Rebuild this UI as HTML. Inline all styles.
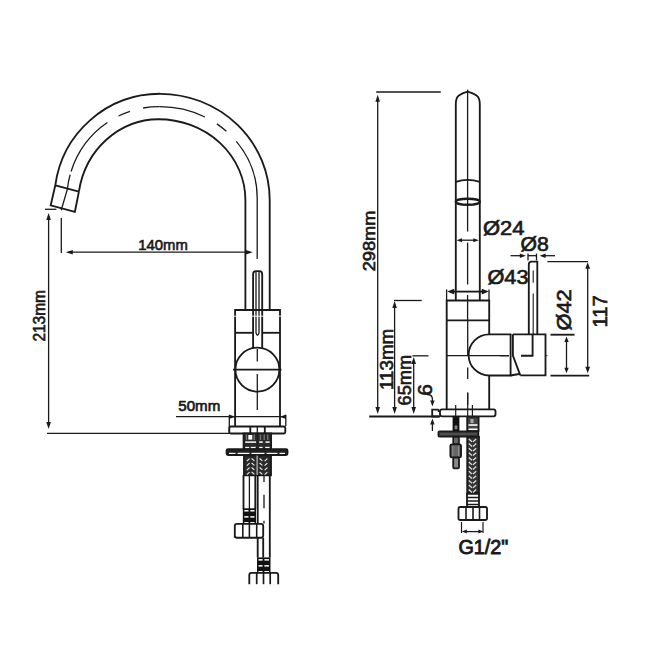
<!DOCTYPE html>
<html><head><meta charset="utf-8"><style>
html,body{margin:0;padding:0;background:#fff;width:650px;height:650px;overflow:hidden}
svg{display:block}
</style></head><body>
<svg width="650" height="650" viewBox="0 0 650 650" stroke-linecap="butt">
<rect width="650" height="650" fill="#fff"/>
<path d="M269.7,310 L269.7,200 A109.7,106.2 0 0 0 160,93.8 A105.6,105.9 0 0 0 55.3,185.3" fill="none" stroke="#1a1a1a" stroke-width="1.85" />
<path d="M245.4,310 L245.4,200 A86.9,80.8 0 0 0 158.5,119.2 A80.8,86.4 0 0 0 78.9,191.6" fill="none" stroke="#1a1a1a" stroke-width="1.85" />
<path d="M55.3,185.3 L78.9,191.6 M55.3,185.3 L50.7,205.3 L74.9,211.8 L78.9,191.6" fill="none" stroke="#1a1a1a" stroke-width="1.85" />
<line x1="61.2" y1="210.2" x2="67.6" y2="188.4" stroke="#1a1a1a" stroke-width="1.3" />
<path d="M67.46,188.38 A92.2,92.9 0 0 1 70.15,174.68" fill="none" stroke="#1a1a1a" stroke-width="1.3" />
<path d="M71.09,171.49 A92.2,92.9 0 0 1 107.38,122.52" fill="none" stroke="#1a1a1a" stroke-width="1.3" />
<path d="M118.52,116.03 A92.2,92.9 0 0 1 129.95,111.33" fill="none" stroke="#1a1a1a" stroke-width="1.3" />
<path d="M143.10,107.99 A92.2,92.9 0 0 1 159.50,106.60" fill="none" stroke="#1a1a1a" stroke-width="1.3" />
<path d="M159.50,106.60 A97.2,91.4 0 0 1 204.97,116.97" fill="none" stroke="#1a1a1a" stroke-width="1.3" />
<path d="M216.85,123.86 A97.2,91.4 0 0 1 226.43,131.27" fill="none" stroke="#1a1a1a" stroke-width="1.3" />
<path d="M236.33,141.41 A97.2,91.4 0 0 1 257.20,198.00" fill="none" stroke="#1a1a1a" stroke-width="1.3" />
<line x1="257.2" y1="198" x2="257.2" y2="259" stroke="#1a1a1a" stroke-width="1.3" />
<line x1="45" y1="209.3" x2="56.4" y2="209.3" stroke="#1a1a1a" stroke-width="1.3" />
<line x1="48.6" y1="216" x2="48.6" y2="426" stroke="#1a1a1a" stroke-width="1.3" />
<path d="M48.60,213.00 L50.90,220.00 L46.30,220.00Z" fill="#1a1a1a"/>
<path d="M48.60,429.00 L46.30,422.00 L50.90,422.00Z" fill="#1a1a1a"/>
<line x1="47" y1="433.3" x2="229.3" y2="433.3" stroke="#1a1a1a" stroke-width="1.3" />
<text x="44.8" y="315.8" font-family="Liberation Sans" font-size="16" font-weight="normal" text-anchor="middle" fill="#1a1a1a" stroke="#1a1a1a" stroke-width="0.65" transform="rotate(-90 44.8 315.8)" textLength="51.5" lengthAdjust="spacingAndGlyphs">213mm</text>
<line x1="61.3" y1="218" x2="61.3" y2="253" stroke="#1a1a1a" stroke-width="1.3" />
<line x1="68" y1="252.2" x2="250" y2="252.2" stroke="#1a1a1a" stroke-width="1.3" />
<path d="M65.80,252.20 L72.80,249.90 L72.80,254.50Z" fill="#1a1a1a"/>
<path d="M252.80,252.20 L245.80,254.50 L245.80,249.90Z" fill="#1a1a1a"/>
<text x="163.1" y="249.6" font-family="Liberation Sans" font-size="15.5" font-weight="normal" text-anchor="middle" fill="#1a1a1a" stroke="#1a1a1a" stroke-width="0.65" textLength="49.5" lengthAdjust="spacingAndGlyphs">140mm</text>
<path d="M253.1,348.5 L253.1,274 Q253.1,271.1 256,271.1 L259.3,271.1 Q262.2,271.1 262.2,274 L262.2,348.5" fill="none" stroke="#1a1a1a" stroke-width="1.85" />
<path d="M256.0,272 L256.0,333 Q257.5,337.5 259.0,333 L259.0,272" fill="none" stroke="#1a1a1a" stroke-width="1.3" />
<path d="M235.1,426.5 L235.1,310 L280,310 L280,426.5" fill="none" stroke="#1a1a1a" stroke-width="1.85" />
<line x1="235.1" y1="332.8" x2="252.8" y2="332.8" stroke="#1a1a1a" stroke-width="1.85" />
<line x1="262" y1="332.8" x2="280" y2="332.8" stroke="#1a1a1a" stroke-width="1.85" />
<circle cx="257.4" cy="369.6" r="22" fill="none" stroke="#1a1a1a" stroke-width="1.85"/>
<line x1="233" y1="369.6" x2="281.5" y2="369.6" stroke="#1a1a1a" stroke-width="1.85" />
<line x1="257.3" y1="349" x2="257.3" y2="361.5" stroke="#1a1a1a" stroke-width="1.3" />
<line x1="257.3" y1="374" x2="257.3" y2="410" stroke="#1a1a1a" stroke-width="1.3" />
<line x1="233" y1="316.2" x2="283" y2="316.2" stroke="#fff" stroke-width="0.9" />
<line x1="176" y1="416.7" x2="285.8" y2="416.7" stroke="#1a1a1a" stroke-width="1.3" />
<path d="M235.10,416.70 L229.10,418.90 L229.10,414.50Z" fill="#1a1a1a"/>
<path d="M280.00,416.70 L286.00,414.50 L286.00,418.90Z" fill="#1a1a1a"/>
<text x="199.3" y="410.7" font-family="Liberation Sans" font-size="15.5" font-weight="normal" text-anchor="middle" fill="#1a1a1a" stroke="#1a1a1a" stroke-width="0.7" textLength="42" lengthAdjust="spacingAndGlyphs">50mm</text>
<line x1="229.3" y1="415" x2="229.3" y2="433.5" stroke="#1a1a1a" stroke-width="1.3" />
<line x1="285.8" y1="415" x2="285.8" y2="426" stroke="#1a1a1a" stroke-width="1.3" />
<rect x="229.3" y="426.5" width="56" height="7" rx="1.5" fill="#fff" stroke="#1a1a1a" stroke-width="1.85"/>
<line x1="250.3" y1="426.5" x2="250.3" y2="433.5" stroke="#1a1a1a" stroke-width="1.85" />
<line x1="264.8" y1="426.5" x2="264.8" y2="433.5" stroke="#1a1a1a" stroke-width="1.85" />
<line x1="257.3" y1="426.5" x2="257.3" y2="433.5" stroke="#1a1a1a" stroke-width="1.3" />
<rect x="243.6" y="433.5" width="27.5" height="15.4" rx="0" fill="#2a2a2a" stroke="#1a1a1a" stroke-width="1.85"/>
<line x1="246.5" y1="434.5" x2="246.5" y2="440" stroke="#777" stroke-width="1.3" />
<line x1="254.2" y1="434.5" x2="254.2" y2="440" stroke="#777" stroke-width="1.3" />
<line x1="260.5" y1="434.5" x2="260.5" y2="440" stroke="#777" stroke-width="1.3" />
<line x1="264.2" y1="434.5" x2="264.2" y2="440" stroke="#777" stroke-width="1.3" />
<line x1="267.8" y1="434.5" x2="267.8" y2="440" stroke="#777" stroke-width="1.3" />
<rect x="248.3" y="435" width="4" height="4.6" fill="#fff"/>
<line x1="245.2" y1="442.1" x2="256.2" y2="442.1" stroke="#fff" stroke-width="1.5" />
<line x1="259.2" y1="442.1" x2="262.8" y2="442.1" stroke="#fff" stroke-width="1.5" />
<line x1="265.5" y1="442.1" x2="269.6" y2="442.1" stroke="#fff" stroke-width="1.5" />
<line x1="245.2" y1="447.6" x2="249.2" y2="447.6" stroke="#fff" stroke-width="1.5" />
<line x1="250.8" y1="447.6" x2="255.6" y2="447.6" stroke="#fff" stroke-width="1.5" />
<line x1="259.2" y1="447.6" x2="262.6" y2="447.6" stroke="#fff" stroke-width="1.5" />
<line x1="265.2" y1="447.6" x2="269.6" y2="447.6" stroke="#fff" stroke-width="1.5" />
<line x1="257.2" y1="433.5" x2="257.2" y2="449" stroke="#1a1a1a" stroke-width="1.2" />
<rect x="226.6" y="449.2" width="60.9" height="5.9" rx="1.5" fill="#222" stroke="#1a1a1a" stroke-width="1.85"/>
<line x1="229" y1="453.4" x2="235.5" y2="453.4" stroke="#fff" stroke-width="1.2" />
<line x1="237.5" y1="453.4" x2="249.5" y2="453.4" stroke="#fff" stroke-width="1.2" />
<line x1="251.5" y1="453.4" x2="264.5" y2="453.4" stroke="#fff" stroke-width="1.2" />
<line x1="266.5" y1="453.4" x2="277.5" y2="453.4" stroke="#fff" stroke-width="1.2" />
<line x1="279.5" y1="453.4" x2="285" y2="453.4" stroke="#fff" stroke-width="1.2" />
<rect x="244" y="455.5" width="27" height="19.8" rx="0" fill="#2a2a2a" stroke="#1a1a1a" stroke-width="1.85"/>
<line x1="257.1" y1="455.5" x2="257.1" y2="475" stroke="#ddd" stroke-width="1.0" />
<path d="M246.8,461.1 l2.8,-2.4" fill="none" stroke="#eee" stroke-width="1.1" />
<path d="M251.6,458.5 l2.8,2.4" fill="none" stroke="#eee" stroke-width="1.1" />
<path d="M259.6,458.5 l2.8,2.4" fill="none" stroke="#eee" stroke-width="1.1" />
<path d="M264.6,461.1 l2.8,-2.4" fill="none" stroke="#eee" stroke-width="1.1" />
<path d="M246.8,465.6 l2.8,-2.4" fill="none" stroke="#eee" stroke-width="1.1" />
<path d="M251.6,463.0 l2.8,2.4" fill="none" stroke="#eee" stroke-width="1.1" />
<path d="M259.6,463.0 l2.8,2.4" fill="none" stroke="#eee" stroke-width="1.1" />
<path d="M264.6,465.6 l2.8,-2.4" fill="none" stroke="#eee" stroke-width="1.1" />
<path d="M246.8,470.1 l2.8,-2.4" fill="none" stroke="#eee" stroke-width="1.1" />
<path d="M251.6,467.5 l2.8,2.4" fill="none" stroke="#eee" stroke-width="1.1" />
<path d="M259.6,467.5 l2.8,2.4" fill="none" stroke="#eee" stroke-width="1.1" />
<path d="M264.6,470.1 l2.8,-2.4" fill="none" stroke="#eee" stroke-width="1.1" />
<path d="M246.8,474.6 l2.8,-2.4" fill="none" stroke="#eee" stroke-width="1.1" />
<path d="M251.6,472.0 l2.8,2.4" fill="none" stroke="#eee" stroke-width="1.1" />
<path d="M259.6,472.0 l2.8,2.4" fill="none" stroke="#eee" stroke-width="1.1" />
<path d="M264.6,474.6 l2.8,-2.4" fill="none" stroke="#eee" stroke-width="1.1" />
<path d="M243.5,475 L243.5,509 M255.3,475 L255.3,509" fill="none" stroke="#1a1a1a" stroke-width="1.85" />
<line x1="249.4" y1="475" x2="249.4" y2="509" stroke="#1a1a1a" stroke-width="1.3" />
<rect x="242.8" y="508.3" width="13.199999999999989" height="15.599999999999966" fill="#111"/>
<line x1="244.3" y1="510.796" x2="248.5" y2="510.796" stroke="#fff" stroke-width="1.5" />
<line x1="250.3" y1="510.796" x2="254.5" y2="510.796" stroke="#fff" stroke-width="1.5" />
<line x1="244.3" y1="516.88" x2="248.5" y2="516.88" stroke="#fff" stroke-width="1.5" />
<line x1="250.3" y1="516.88" x2="254.5" y2="516.88" stroke="#fff" stroke-width="1.5" />
<line x1="244.3" y1="522.808" x2="248.5" y2="522.808" stroke="#fff" stroke-width="1.5" />
<line x1="250.3" y1="522.808" x2="254.5" y2="522.808" stroke="#fff" stroke-width="1.5" />
<path d="M234.8,537.7 L234.8,526 Q234.8,523.9 237,523.9 L261,523.9 Q263.2,523.9 263.2,526 L263.2,535.5 Q263.2,537.7 261,537.7 L237,537.7 Q234.8,537.7 234.8,535.5" fill="none" stroke="#1a1a1a" stroke-width="1.85" />
<line x1="242.8" y1="524" x2="242.8" y2="537.7" stroke="#1a1a1a" stroke-width="1.6" />
<line x1="249.4" y1="524" x2="249.4" y2="537.7" stroke="#1a1a1a" stroke-width="1.6" />
<line x1="256.7" y1="524" x2="256.7" y2="537.7" stroke="#1a1a1a" stroke-width="1.6" />
<path d="M257.7,475 L257.7,523.9 M257.7,537.7 L257.7,557.4 M263.2,537.7 L263.2,557.4 M269.8,475 L269.8,557.4" fill="none" stroke="#1a1a1a" stroke-width="1.85" />
<line x1="264" y1="475" x2="264" y2="482" stroke="#1a1a1a" stroke-width="1.3" />
<line x1="264" y1="494.7" x2="264" y2="508.3" stroke="#1a1a1a" stroke-width="1.3" />
<line x1="264" y1="520.8" x2="264" y2="523.5" stroke="#1a1a1a" stroke-width="1.3" />
<rect x="257.0" y="557.4" width="13.5" height="15.399999999999977" fill="#111"/>
<line x1="258.5" y1="559.8639999999999" x2="262.6" y2="559.8639999999999" stroke="#fff" stroke-width="1.5" />
<line x1="264.4" y1="559.8639999999999" x2="269.0" y2="559.8639999999999" stroke="#fff" stroke-width="1.5" />
<line x1="258.5" y1="565.87" x2="262.6" y2="565.87" stroke="#fff" stroke-width="1.5" />
<line x1="264.4" y1="565.87" x2="269.0" y2="565.87" stroke="#fff" stroke-width="1.5" />
<line x1="258.5" y1="571.722" x2="262.6" y2="571.722" stroke="#fff" stroke-width="1.5" />
<line x1="264.4" y1="571.722" x2="269.0" y2="571.722" stroke="#fff" stroke-width="1.5" />
<path d="M249.3,584.2 L249.3,575 Q249.3,572.8 251.5,572.8 L276,572.8 Q278.2,572.8 278.2,575 L278.2,584.2" fill="none" stroke="#1a1a1a" stroke-width="1.85" />
<line x1="256.7" y1="572.8" x2="256.7" y2="584.2" stroke="#1a1a1a" stroke-width="1.7" />
<line x1="263.5" y1="572.8" x2="263.5" y2="584.2" stroke="#1a1a1a" stroke-width="1.7" />
<line x1="270.2" y1="572.8" x2="270.2" y2="584.2" stroke="#1a1a1a" stroke-width="1.7" />
<line x1="376.2" y1="92" x2="440.8" y2="92" stroke="#1a1a1a" stroke-width="1.3" />
<line x1="377.7" y1="100" x2="377.7" y2="408" stroke="#1a1a1a" stroke-width="1.3" />
<path d="M377.70,94.80 L380.00,101.80 L375.40,101.80Z" fill="#1a1a1a"/>
<path d="M377.70,414.00 L375.40,407.00 L380.00,407.00Z" fill="#1a1a1a"/>
<text x="374.6" y="241" font-family="Liberation Sans" font-size="16" font-weight="normal" text-anchor="middle" fill="#1a1a1a" stroke="#1a1a1a" stroke-width="0.65" transform="rotate(-90 374.6 241)" textLength="60.7" lengthAdjust="spacingAndGlyphs">298mm</text>
<path d="M455.8,300.5 L455.8,104.5 C455.8,99 456.5,97 458.8,95.6 Q463,92.6 467.6,91.6 Q472.2,92.6 476.6,95.6 C479,97 479.8,99 479.8,104.5 L479.8,300.5" fill="none" stroke="#1a1a1a" stroke-width="1.85" />
<line x1="467.6" y1="89.6" x2="467.6" y2="231.5" stroke="#1a1a1a" stroke-width="1.3" />
<line x1="467.6" y1="242.6" x2="467.6" y2="284.5" stroke="#1a1a1a" stroke-width="1.3" />
<line x1="467.6" y1="295" x2="467.6" y2="320.5" stroke="#1a1a1a" stroke-width="1.3" />
<path d="M455.8,181.8 Q467.7,178 479.8,181.8" fill="none" stroke="#1a1a1a" stroke-width="1.85" />
<ellipse cx="467.8" cy="201.8" rx="12" ry="3" fill="none" stroke="#1a1a1a" stroke-width="2.4"/>
<line x1="461" y1="240.2" x2="474" y2="240.2" stroke="#1a1a1a" stroke-width="1.3" />
<path d="M456.50,240.20 L462.00,238.20 L462.00,242.20Z" fill="#1a1a1a"/>
<path d="M478.80,240.20 L473.30,242.20 L473.30,238.20Z" fill="#1a1a1a"/>
<text x="483" y="235.4" font-family="Liberation Sans" font-size="19.5" font-weight="normal" text-anchor="start" fill="#1a1a1a" stroke="#1a1a1a" stroke-width="0.65" textLength="41.5" lengthAdjust="spacingAndGlyphs">Ø24</text>
<line x1="452" y1="291.6" x2="484" y2="291.6" stroke="#1a1a1a" stroke-width="1.85" />
<path d="M447.20,291.60 L454.20,288.80 L454.20,294.40Z" fill="#1a1a1a"/>
<path d="M488.80,291.60 L481.80,294.40 L481.80,288.80Z" fill="#1a1a1a"/>
<line x1="446.6" y1="289.4" x2="446.6" y2="300.5" stroke="#1a1a1a" stroke-width="1.3" />
<line x1="489" y1="289.4" x2="489" y2="300.5" stroke="#1a1a1a" stroke-width="1.3" />
<text x="487.5" y="283.8" font-family="Liberation Sans" font-size="19.5" font-weight="normal" text-anchor="start" fill="#1a1a1a" stroke="#1a1a1a" stroke-width="0.65" textLength="41" lengthAdjust="spacingAndGlyphs">Ø43</text>
<path d="M446.7,409.4 L446.7,300.5 L489.2,300.5 L489.2,334.3 M489.2,375.5 L489.2,409.4" fill="none" stroke="#1a1a1a" stroke-width="1.85" />
<line x1="446.7" y1="320.3" x2="489.2" y2="320.3" stroke="#1a1a1a" stroke-width="1.85" />
<line x1="446.7" y1="355.7" x2="509" y2="355.7" stroke="#1a1a1a" stroke-width="1.3" />
<line x1="467.7" y1="320.5" x2="467.7" y2="355.7" stroke="#1a1a1a" stroke-width="1.3" />
<line x1="467.7" y1="367.4" x2="467.7" y2="379" stroke="#1a1a1a" stroke-width="1.3" />
<line x1="467.7" y1="392.6" x2="467.7" y2="405" stroke="#1a1a1a" stroke-width="1.3" />
<path d="M511.4,334.3 L489.2,334.3 A20,20 0 0 0 489.2,375.5 L511.4,375.5" fill="none" stroke="#1a1a1a" stroke-width="1.85" />
<path d="M510.6,334.3 L510.6,375.5 M512.9,334.3 L512.9,355.7 L520.3,375.3" fill="none" stroke="#1a1a1a" stroke-width="1.85" />
<path d="M510.6,375.5 L519,374 M520.3,375.4 L545.5,375.4 L545.5,334.4 L512.9,334.4" fill="none" stroke="#1a1a1a" stroke-width="1.85" />
<path d="M532.6,334.4 L532.6,355.7 L521,355.7" fill="none" stroke="#1a1a1a" stroke-width="1.85" />
<line x1="500" y1="355.7" x2="509" y2="355.7" stroke="#1a1a1a" stroke-width="1.3" />
<line x1="545.5" y1="355.7" x2="547.4" y2="355.7" stroke="#1a1a1a" stroke-width="1" />
<path d="M528.8,334.3 L528.8,264.5 Q528.8,261.6 531.5,261.6 L537.3,261.6 L537.3,334.3" fill="none" stroke="#1a1a1a" stroke-width="1.85" />
<line x1="533.2" y1="270.4" x2="533.2" y2="282.7" stroke="#1a1a1a" stroke-width="1.1" />
<line x1="533.2" y1="293.5" x2="533.2" y2="334" stroke="#1a1a1a" stroke-width="1.1" />
<line x1="510.5" y1="255.7" x2="520" y2="255.7" stroke="#1a1a1a" stroke-width="1.3" />
<path d="M525.80,255.70 L519.80,257.90 L519.80,253.50Z" fill="#1a1a1a"/>
<line x1="545" y1="255.7" x2="555" y2="255.7" stroke="#1a1a1a" stroke-width="1.3" />
<path d="M539.60,255.70 L545.60,253.50 L545.60,257.90Z" fill="#1a1a1a"/>
<line x1="528" y1="253.5" x2="528" y2="260.4" stroke="#1a1a1a" stroke-width="1.3" />
<line x1="536.5" y1="253.5" x2="536.5" y2="260.4" stroke="#1a1a1a" stroke-width="1.3" />
<line x1="528" y1="255.7" x2="536.5" y2="255.7" stroke="#1a1a1a" stroke-width="1.3" />
<text x="520.6" y="251.2" font-family="Liberation Sans" font-size="19.5" font-weight="normal" text-anchor="start" fill="#1a1a1a" stroke="#1a1a1a" stroke-width="0.65" textLength="28.3" lengthAdjust="spacingAndGlyphs">Ø8</text>
<line x1="550.5" y1="334.7" x2="574.5" y2="334.7" stroke="#1a1a1a" stroke-width="1.85" />
<line x1="550.5" y1="375.6" x2="589.2" y2="375.6" stroke="#1a1a1a" stroke-width="1.85" />
<line x1="566.5" y1="342" x2="566.5" y2="368" stroke="#1a1a1a" stroke-width="1.3" />
<path d="M566.50,336.60 L568.70,342.10 L564.30,342.10Z" fill="#1a1a1a"/>
<path d="M566.50,373.20 L564.30,367.70 L568.70,367.70Z" fill="#1a1a1a"/>
<text x="570.8" y="309.9" font-family="Liberation Sans" font-size="19.5" font-weight="normal" text-anchor="middle" fill="#1a1a1a" stroke="#1a1a1a" stroke-width="0.65" transform="rotate(-90 570.8 309.9)" textLength="41.4" lengthAdjust="spacingAndGlyphs">Ø42</text>
<line x1="547.4" y1="261.6" x2="588" y2="261.6" stroke="#1a1a1a" stroke-width="1.3" />
<line x1="587.7" y1="268" x2="587.7" y2="368" stroke="#1a1a1a" stroke-width="1.3" />
<path d="M587.70,262.30 L590.10,268.80 L585.30,268.80Z" fill="#1a1a1a"/>
<path d="M587.70,373.20 L585.30,366.70 L590.10,366.70Z" fill="#1a1a1a"/>
<text x="607.5" y="311.4" font-family="Liberation Sans" font-size="19.5" font-weight="normal" text-anchor="middle" fill="#1a1a1a" stroke="#1a1a1a" stroke-width="0.65" transform="rotate(-90 607.5 311.4)" textLength="32" lengthAdjust="spacingAndGlyphs">117</text>
<line x1="394" y1="300.5" x2="421.7" y2="300.5" stroke="#1a1a1a" stroke-width="1.3" />
<line x1="394.6" y1="307" x2="394.6" y2="408" stroke="#1a1a1a" stroke-width="1.3" />
<path d="M394.60,301.00 L396.90,308.00 L392.30,308.00Z" fill="#1a1a1a"/>
<path d="M394.60,414.00 L392.30,407.00 L396.90,407.00Z" fill="#1a1a1a"/>
<text x="393" y="359.4" font-family="Liberation Sans" font-size="17.5" font-weight="normal" text-anchor="middle" fill="#1a1a1a" stroke="#1a1a1a" stroke-width="0.65" transform="rotate(-90 393 359.4)" textLength="61" lengthAdjust="spacingAndGlyphs">113mm</text>
<line x1="412.5" y1="355.8" x2="428.5" y2="355.8" stroke="#1a1a1a" stroke-width="1.3" />
<line x1="413.7" y1="363" x2="413.7" y2="408" stroke="#1a1a1a" stroke-width="1.3" />
<path d="M413.70,357.00 L416.00,364.00 L411.40,364.00Z" fill="#1a1a1a"/>
<path d="M413.70,414.00 L411.40,407.00 L416.00,407.00Z" fill="#1a1a1a"/>
<text x="410.8" y="380.2" font-family="Liberation Sans" font-size="18" font-weight="normal" text-anchor="middle" fill="#1a1a1a" stroke="#1a1a1a" stroke-width="0.65" transform="rotate(-90 410.8 380.2)" textLength="50.4" lengthAdjust="spacingAndGlyphs">65mm</text>
<text x="432.2" y="390" font-family="Liberation Sans" font-size="21" font-weight="normal" text-anchor="middle" fill="#1a1a1a" stroke="#1a1a1a" stroke-width="0.65" transform="rotate(-90 432.2 390)">6</text>
<path d="M427,394.5 Q432.4,394.5 432.4,399 L432.4,401" fill="none" stroke="#1a1a1a" stroke-width="1.3" />
<path d="M432.40,406.40 L430.20,400.40 L434.60,400.40Z" fill="#1a1a1a"/>
<line x1="432.4" y1="424" x2="432.4" y2="431" stroke="#1a1a1a" stroke-width="1.3" />
<path d="M432.40,418.40 L434.60,424.40 L430.20,424.40Z" fill="#1a1a1a"/>
<line x1="369.2" y1="416.5" x2="440" y2="416.5" stroke="#1a1a1a" stroke-width="1.85" />
<path d="M438.7,409.6 L432.2,409.6 L432.2,416.5 L438.7,416.5 M438.7,409.6 L438.7,412" fill="none" stroke="#1a1a1a" stroke-width="1.85" />
<rect x="440" y="409.4" width="55.5" height="6.9" rx="2" fill="#fff" stroke="#1a1a1a" stroke-width="1.85"/>
<line x1="455.7" y1="405" x2="455.7" y2="416" stroke="#1a1a1a" stroke-width="1.2" />
<line x1="467.7" y1="392.8" x2="467.7" y2="416" stroke="#1a1a1a" stroke-width="1.2" />
<line x1="472.4" y1="405" x2="472.4" y2="416" stroke="#1a1a1a" stroke-width="1.2" />
<rect x="452.6" y="416.5" width="6.8" height="14.7" rx="0" fill="#111" stroke="#1a1a1a" stroke-width="0"/>
<rect x="454.6" y="425.5" width="2.8" height="3.8" rx="0" fill="#888" stroke="#1a1a1a" stroke-width="0"/>
<rect x="467.2" y="416.8" width="11.4" height="14.2" rx="0" fill="#444" stroke="#1a1a1a" stroke-width="1.8"/>
<line x1="468.5" y1="425" x2="477.5" y2="425" stroke="#fff" stroke-width="1.6" />
<line x1="468.5" y1="429.3" x2="477.5" y2="429.3" stroke="#fff" stroke-width="1.6" />
<rect x="470.5" y="419" width="3" height="4" fill="#aaa"/>
<rect x="438.3" y="431.2" width="40.2" height="5.6" rx="1.2" fill="#333" stroke="#1a1a1a" stroke-width="1.5"/>
<line x1="440" y1="434" x2="477" y2="434" stroke="#777" stroke-width="0.8" />
<rect x="453.2" y="437" width="5.8" height="7.2" rx="0" fill="#666" stroke="#1a1a1a" stroke-width="1.6"/>
<rect x="450.4" y="444.4" width="10.6" height="13" rx="1.5" fill="#666" stroke="#1a1a1a" stroke-width="1.9"/>
<line x1="452.8" y1="446" x2="452.8" y2="456" stroke="#999" stroke-width="0.8" />
<line x1="458.6" y1="446" x2="458.6" y2="456" stroke="#999" stroke-width="0.8" />
<rect x="453.2" y="457.6" width="5.8" height="10.8" rx="1.2" fill="#888" stroke="#1a1a1a" stroke-width="1.8"/>
<rect x="467.2" y="436.8" width="11.8" height="56.2" rx="0" fill="#333" stroke="#1a1a1a" stroke-width="1.8"/>
<path d="M468.8,439.0 l3.2,2.8 m1,0 l3.2,-2.8" fill="none" stroke="#ddd" stroke-width="1.3" />
<path d="M468.8,443.6 l3.2,2.8 m1,0 l3.2,-2.8" fill="none" stroke="#ddd" stroke-width="1.3" />
<path d="M468.8,448.2 l3.2,2.8 m1,0 l3.2,-2.8" fill="none" stroke="#ddd" stroke-width="1.3" />
<path d="M468.8,452.8 l3.2,2.8 m1,0 l3.2,-2.8" fill="none" stroke="#ddd" stroke-width="1.3" />
<path d="M468.8,457.4 l3.2,2.8 m1,0 l3.2,-2.8" fill="none" stroke="#ddd" stroke-width="1.3" />
<path d="M468.8,462.0 l3.2,2.8 m1,0 l3.2,-2.8" fill="none" stroke="#ddd" stroke-width="1.3" />
<path d="M468.8,466.6 l3.2,2.8 m1,0 l3.2,-2.8" fill="none" stroke="#ddd" stroke-width="1.3" />
<path d="M468.8,471.2 l3.2,2.8 m1,0 l3.2,-2.8" fill="none" stroke="#ddd" stroke-width="1.3" />
<path d="M468.8,475.8 l3.2,2.8 m1,0 l3.2,-2.8" fill="none" stroke="#ddd" stroke-width="1.3" />
<path d="M468.8,480.4 l3.2,2.8 m1,0 l3.2,-2.8" fill="none" stroke="#ddd" stroke-width="1.3" />
<path d="M468.8,485.0 l3.2,2.8 m1,0 l3.2,-2.8" fill="none" stroke="#ddd" stroke-width="1.3" />
<path d="M468.8,489.6 l3.2,2.8 m1,0 l3.2,-2.8" fill="none" stroke="#ddd" stroke-width="1.3" />
<line x1="467" y1="494" x2="479" y2="494" stroke="#1a1a1a" stroke-width="1.5" />
<line x1="467" y1="497.5" x2="479" y2="497.5" stroke="#1a1a1a" stroke-width="1.5" />
<line x1="467" y1="501" x2="479" y2="501" stroke="#1a1a1a" stroke-width="1.5" />
<line x1="467" y1="504.5" x2="479" y2="504.5" stroke="#1a1a1a" stroke-width="1.5" />
<path d="M467,493 L467,507 M479,493 L479,507" fill="none" stroke="#1a1a1a" stroke-width="1.85" />
<rect x="458.5" y="507" width="28.5" height="13" rx="1.8" fill="#fff" stroke="#1a1a1a" stroke-width="1.85"/>
<line x1="466" y1="507" x2="466" y2="520" stroke="#1a1a1a" stroke-width="1.6" />
<line x1="473" y1="507" x2="473" y2="520" stroke="#1a1a1a" stroke-width="1.6" />
<line x1="479.5" y1="507" x2="479.5" y2="520" stroke="#1a1a1a" stroke-width="1.6" />
<line x1="461.5" y1="522" x2="461.5" y2="533" stroke="#1a1a1a" stroke-width="1.2" />
<line x1="483" y1="522" x2="483" y2="533" stroke="#1a1a1a" stroke-width="1.2" />
<line x1="466" y1="531.6" x2="479" y2="531.6" stroke="#1a1a1a" stroke-width="1.3" />
<path d="M461.80,531.60 L466.80,529.60 L466.80,533.60Z" fill="#1a1a1a"/>
<path d="M483.40,531.60 L478.40,533.60 L478.40,529.60Z" fill="#1a1a1a"/>
<text x="483.4" y="553.7" font-family="Liberation Sans" font-size="20" font-weight="normal" text-anchor="middle" fill="#1a1a1a" stroke="#1a1a1a" stroke-width="0.9" transform="rotate(normal 483.4 553.7)" textLength="50" lengthAdjust="spacingAndGlyphs">G1/2"</text>
</svg></body></html>
